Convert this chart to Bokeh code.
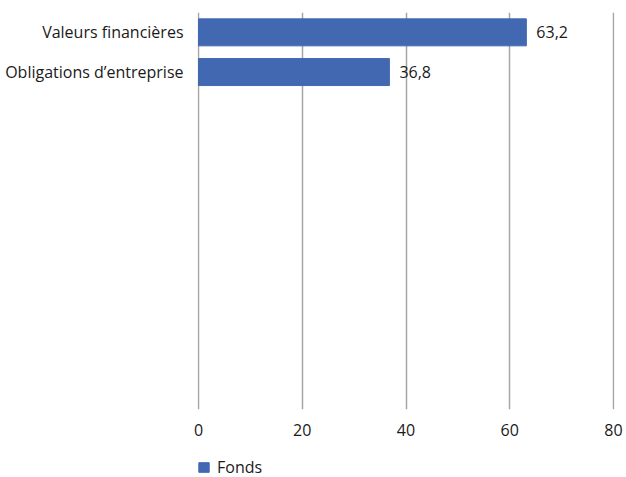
from bokeh.plotting import figure
from bokeh.layouts import column
from bokeh.models import FactorRange, Range1d, ColumnDataSource, Legend, LegendItem, LabelSet, FixedTicker
from bokeh.core.properties import value
from bokeh.embed import file_html
from bokeh.resources import INLINE

categories = ["Valeurs financières", "Obligations d’entreprise"]
values = [63.2, 36.8]
value_labels = ["63,2", "36,8"]
n_empty = 8
series_name = "Fonds"
x_ticks = [0, 20, 40, 60, 80]

BAR = "#4268B2"
GRID = "#a6a6a6"
TXT = "#1a1a1a"
FONT = "Open Sans"
FS = "16px"

# empty category slots shown as blank rows below the two bars
factors = [" " * (i + 1) for i in range(n_empty)] + categories[::-1]

src = ColumnDataSource(dict(cat=categories, val=values, lab=value_labels))

pad = 80 / 417.0  # one pixel of padding so edge gridlines are drawn
p = figure(y_range=FactorRange(factors=factors), x_range=Range1d(-pad, 80 + pad),
           width=626, height=448, output_backend="svg", toolbar_location=None,
           min_border_left=196, min_border_right=11, min_border_top=12, min_border_bottom=39)

r = p.hbar(y="cat", right="val", left=0, height=0.68, source=src, fill_color=BAR, line_color=BAR)

p.add_layout(LabelSet(x="val", y="cat", text="lab", source=src, x_offset=10,
                      text_baseline="middle", text_align="left",
                      text_font_size=FS, text_color=TXT, text_font=value(FONT)))

p.outline_line_color = None
p.ygrid.visible = False
p.xgrid.ticker = FixedTicker(ticks=x_ticks)
p.xgrid.grid_line_color = GRID
p.xgrid.grid_line_width = 1.5

p.xaxis.ticker = FixedTicker(ticks=x_ticks)
for ax in (p.xaxis[0], p.yaxis[0]):
    ax.axis_line_color = None
    ax.major_tick_line_color = None
    ax.minor_tick_line_color = None
    ax.major_tick_out = 0
    ax.major_tick_in = 0
    ax.minor_tick_out = 0
    ax.major_label_text_font_size = FS
    ax.major_label_text_color = TXT
    ax.major_label_text_font = FONT
p.xaxis.major_label_standoff = 14
p.yaxis.major_label_standoff = 14

# legend strip below the chart
lg = figure(x_range=Range1d(0, 1), y_range=Range1d(0, 1), width=626, height=29,
            output_backend="svg", toolbar_location=None,
            min_border_left=197, min_border_right=12, min_border_top=8, min_border_bottom=0)
lg.axis.visible = False
lg.grid.visible = False
lg.outline_line_color = None
lr = lg.hbar(y=[-5], right=[-5], left=-6, height=0.5, fill_color=BAR, line_color=BAR)
legend = Legend(items=[LegendItem(label=series_name, renderers=[lr])],
                orientation="horizontal", location="top_left",
                border_line_color=None, background_fill_alpha=0,
                margin=0, padding=0, glyph_width=13, glyph_height=12,
                label_text_font_size=FS, label_text_font=FONT, label_text_color=TXT,
                label_standoff=7)
lg.add_layout(legend, "center")

layout = column(p, lg, spacing=0)
open("out.html", "w").write(file_html(layout, INLINE))
